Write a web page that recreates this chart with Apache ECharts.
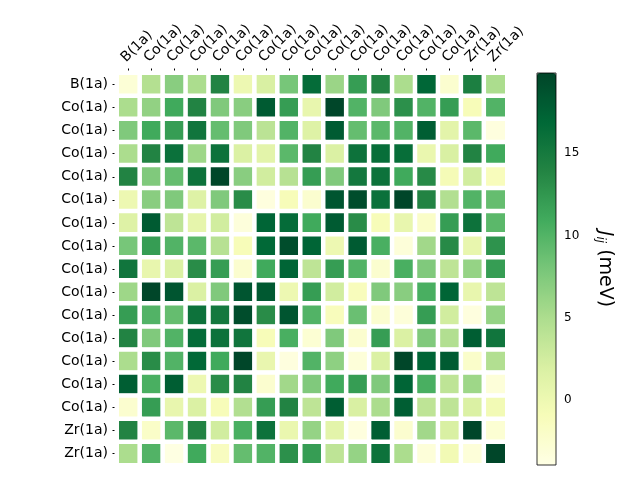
<!DOCTYPE html>
<html>
<head>
<meta charset="utf-8">
<script src="https://cdn.jsdelivr.net/npm/echarts@6/dist/echarts.min.js"></script>
<style>html,body{margin:0;padding:0;background:#fff}#c{width:640px;height:480px}</style>
</head>
<body>
<div id="c"></div>
<script>
const atomLabels = ['B(1a)','Co(1a)','Co(1a)','Co(1a)','Co(1a)','Co(1a)','Co(1a)','Co(1a)','Co(1a)','Co(1a)','Co(1a)','Co(1a)','Co(1a)','Co(1a)','Co(1a)','Zr(1a)','Zr(1a)'];
const colorbarTicks = [0, 5, 10, 15];
const jMin = -4, jMax = 19.9;
const J = [
  [-3, 4.5, 7, 5, 14, 0, 2, 8, 16.5, 6, 12, 14, 5, 17, -2.5, 14.5, 5],
  [5, 6.5, 11, 14, 7.5, 7, 18, 12, 0.5, 19.8, 10, 7.5, 13, 10, 12, -1, 10],
  [7.5, 11, 12, 15.5, 9, 7.5, 4, 10, 1.5, 18, 9, 9.5, 10, 17.8, 1, 9.5, -3.5],
  [5, 14, 16, 5.8, 15.8, 1.8, 1, 9.5, 14, 1.8, 15.8, 16.3, 16.3, 0.3, 2, 14, 11],
  [14, 7.5, 9, 15.8, 19.8, 7, 2.5, 4.3, 12, 7.5, 15.2, 15.8, 11, 13.5, -0.8, 2.5, -1.2],
  [0, 7, 7.5, 1.5, 7.5, 13.3, -3.5, -1, -2.5, 18.5, 19.2, 16, 19.8, 14, 4.6, 10, 9],
  [1.5, 18, 3.8, 0.7, 2.5, -3.3, 17.2, 16.5, 11, 18, 13.3, -1, 0.5, -2, 12, 15.8, 9.5],
  [8, 12, 10, 9.5, 4.3, -1, 16.8, 19.2, 17.2, 0, 18, 10.5, -3.2, 5.6, 13.5, 0.5, 12.8],
  [15.5, 0.5, 1.8, 13.3, 12, -2.5, 11, 17.2, 3.8, 12, 10, -2.5, 10.5, 7.5, 3.8, 6.3, 12],
  [5.8, 19.8, 18.5, 1.8, 7.5, 18.5, 18.2, 0, 12, 2.5, -1.2, 7.5, 7, 10.5, 17.2, 0.5, 3.8],
  [12, 10, 9, 15.8, 15.2, 19.2, 13.3, 18.5, 10, -1.2, 8.7, -2.5, -3.2, 12, 2.5, -3.5, 6.3],
  [14, 7.5, 10, 16.5, 15.8, 15.5, -1, 10.5, -2.8, 7.5, -2.5, 12, 1.8, 7.5, 4.6, 17.8, 15.5],
  [5, 13.3, 10, 16.8, 11, 19.8, 0.4, -3.5, 10, 6.7, -3.2, 1.8, 19.8, 17.2, 18, -2.2, 4.6],
  [17.8, 10.5, 17.8, 0, 13.3, 14, -2.5, 5.6, 7.5, 11, 12, 7.5, 17.2, 10.5, 3.8, 5.8, -3.2],
  [-2.5, 12, 0.5, 1.8, -1, 4.6, 12, 14, 3.8, 17.8, 2, 5, 17.8, 3.8, 3.8, 1.8, -0.5],
  [14, -2, 9.5, 14, 2.5, 10.5, 15.8, 0.3, 6.3, 1, -3.5, 17.8, -2.5, 5.6, 2, 19.8, -2.8],
  [5, 10, -3.8, 11, -1.5, 9, 10, 13, 12, 3.8, 6.3, 15.8, 5, -3.2, -0.5, -3.2, 19.8]
];
const YlGn = ['#ffffe5','#f7fcb9','#d9f0a3','#addd8e','#78c679','#41ab5d','#238443','#006837','#004529'];

const cells = [];
J.forEach((row, r) => row.forEach((v, c) => cells.push([c, r, v])));

const font = 'DejaVu Sans';
const chart = echarts.init(document.getElementById('c'), null, {renderer: 'canvas'});
chart.setOption({
  animation: false,
  textStyle: {fontFamily: font},
  grid: [
    {left: 117, top: 73, width: 390, height: 392},
    {left: 537, top: 73, width: 19, height: 392, show: true, borderColor: '#000', borderWidth: 0.8, backgroundColor: 'transparent', z: 10}
  ],
  xAxis: [
    {type: 'category', gridIndex: 0, position: 'top', data: atomLabels,
     axisLine: {show: false}, splitArea: {show: false}, splitLine: {show: false},
     axisTick: {show: true, alignWithLabel: true, length: 4.5, lineStyle: {color: '#000', width: 1}},
     axisLabel: {interval: 0, rotate: -45, fontSize: 14, color: '#000', margin: 8, verticalAlign: 'bottom', fontFamily: font}},
    {type: 'value', gridIndex: 1, show: false, min: 0, max: 1}
  ],
  yAxis: [
    {type: 'category', gridIndex: 0, inverse: true, data: atomLabels,
     axisLine: {show: false}, splitArea: {show: false}, splitLine: {show: false},
     axisTick: {show: true, alignWithLabel: true, length: 4.5, lineStyle: {color: '#000', width: 1}},
     axisLabel: {interval: 0, fontSize: 14, color: '#000', margin: 9, fontFamily: font}},
    {type: 'value', gridIndex: 1, position: 'right', min: jMin, max: jMax,
     axisLine: {show: false}, splitLine: {show: false},
     axisTick: {show: true, length: 4, customValues: colorbarTicks, lineStyle: {color: '#000', width: 1}},
     axisLabel: {fontSize: 12, color: '#000', margin: 8, customValues: colorbarTicks, fontFamily: font},
     name: '{j|J}{s|ij} (meV)', nameLocation: 'middle', nameRotate: -90, nameGap: 38,
     nameTextStyle: {fontSize: 19, color: '#000', fontFamily: font,
       rich: {j: {fontSize: 19, fontStyle: 'italic', fontFamily: font, color: '#000'},
              s: {fontSize: 12, fontStyle: 'italic', fontFamily: font, color: '#000', verticalAlign: 'bottom', padding: [9, 0, 0, 0]}}}}
  ],
  visualMap: {
    type: 'continuous', min: jMin, max: jMax, seriesIndex: 0, dimension: 2,
    calculable: false, text: null, show: true, padding: 0,
    left: 537, top: 73, itemWidth: 19, itemHeight: 392,
    inRange: {color: YlGn}
  },
  series: [{
    type: 'heatmap', xAxisIndex: 0, yAxisIndex: 0, data: cells,
    itemStyle: {borderColor: '#fff', borderWidth: 4.5},
    emphasis: {disabled: true}
  }]
});
</script>
</body>
</html>
